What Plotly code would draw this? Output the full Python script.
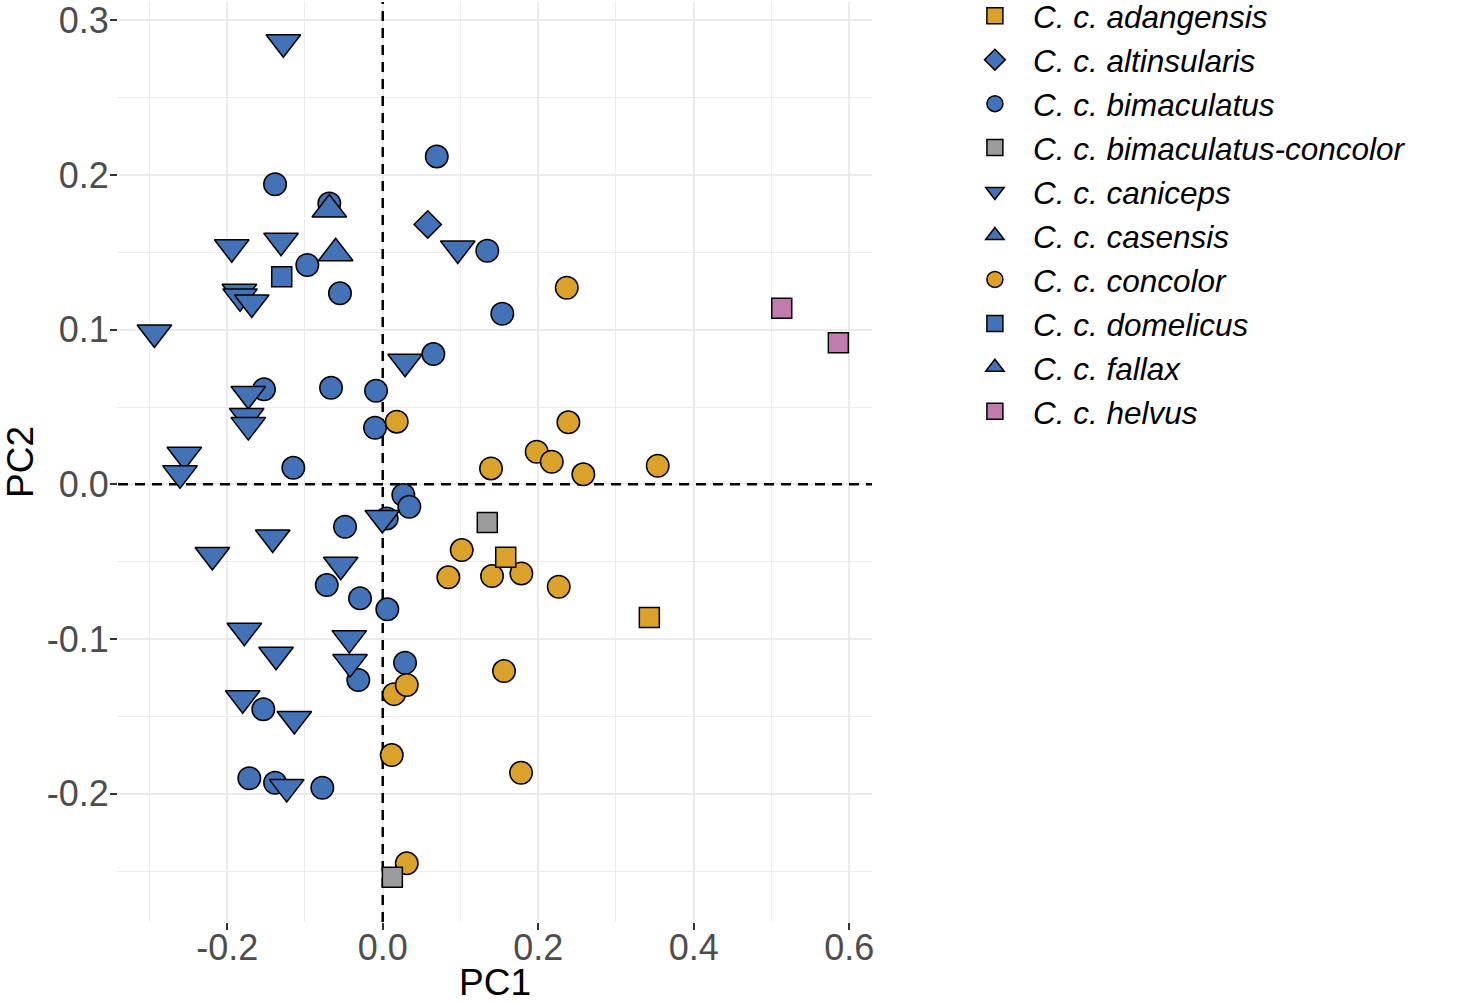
import plotly.graph_objects as go

# ---- data (PC1, PC2) ----
bimaculatus_x = [0.0695, -0.1385, -0.0687, -0.097, -0.055, 0.1345, 0.1538, 0.0651, -0.1527, -0.0665,
                 -0.0086, -0.0099, -0.115, 0.0265, 0.0342, 0.0051, -0.0485, -0.072, -0.0292, 0.0059,
                 0.0287, -0.0314, -0.1536, -0.1716, -0.1385, -0.0777]
bimaculatus_y = [0.212, 0.194, 0.1816, 0.1418, 0.1235, 0.151, 0.1103, 0.0842, 0.0614, 0.0624,
                 0.0605, 0.0366, 0.0107, -0.0069, -0.0145, -0.022, -0.0274, -0.0651, -0.0737, -0.0808,
                 -0.1153, -0.1265, -0.1454, -0.19, -0.1929, -0.1961]

caniceps_x = [-0.1278, -0.1942, -0.1308, -0.1844, -0.1835, -0.1685, -0.2937, 0.0287, 0.0965, -0.1729,
              -0.175, -0.1729, -0.2552, -0.2607, -0.0005, -0.1415, -0.2191, -0.054, -0.178, -0.043,
              -0.1372, -0.042, -0.1801, -0.1137, -0.1235]
caniceps_y = [0.2858, 0.1533, 0.1575, 0.1245, 0.1215, 0.1176, 0.0982, 0.0793, 0.1525, 0.0584,
              0.0442, 0.0383, 0.0191, 0.0071, -0.0218, -0.0343, -0.0457, -0.052, -0.0946, -0.0994,
              -0.1101, -0.1149, -0.1383, -0.1517, -0.1957]

casensis_x = [-0.0687]
casensis_y = [0.1777]
fallax_x = [-0.0605]
fallax_y = [0.1494]
altinsularis_x = [0.0579]
altinsularis_y = [0.168]
domelicus_x = [-0.1299]
domelicus_y = [0.1342]

concolor_x = [0.2367, 0.2388, 0.198, 0.2174, 0.1393, 0.258, 0.3537, 0.018, 0.1016, 0.0844,
              0.1406, 0.1783, 0.2264, 0.156, 0.0145, 0.0309, 0.0116, 0.1779, 0.0309]
concolor_y = [0.1271, 0.0401, 0.0211, 0.0146, 0.0103, 0.0065, 0.012, 0.0405, -0.0425, -0.0601,
              -0.0593, -0.0576, -0.0662, -0.1207, -0.1356, -0.1297, -0.175, -0.1864, -0.245]

adangensis_x = [0.1582, 0.3429]
adangensis_y = [-0.0472, -0.086]
bimcon_x = [0.1345, 0.0124]
bimcon_y = [-0.0246, -0.254]
helvus_x = [0.5132, 0.586]
helvus_y = [0.1138, 0.0915]

x_ticks = [-0.2, 0.0, 0.2, 0.4, 0.6]
x_ticklabels = ["-0.2", "0.0", "0.2", "0.4", "0.6"]
y_ticks = [-0.2, -0.1, 0.0, 0.1, 0.2, 0.3]
y_ticklabels = ["-0.2", "-0.1", "0.0", "0.1", "0.2", "0.3"]

x_range = [-0.3405, 0.6293]
y_range = [-0.2829, 0.3118]
ref_x = 0.0   # dashed reference line PC1 = 0
ref_y = 0.0   # dashed reference line PC2 = 0

BLUE = "#4372B6"
ORANGE = "#DBA22B"
GRAY = "#9C9C9C"
PINK = "#C27BAD"

# (name, x, y, symbol, color, size, legend rank) in drawing order
series = [
    ("C. c. bimaculatus", bimaculatus_x, bimaculatus_y, "circle", BLUE, 22.5, 3),
    ("C. c. caniceps", caniceps_x, caniceps_y, "triangle-down", BLUE, 30, 5),
    ("C. c. casensis", casensis_x, casensis_y, "triangle-up", BLUE, 30, 6),
    ("C. c. fallax", fallax_x, fallax_y, "triangle-up", BLUE, 30, 9),
    ("C. c. altinsularis", altinsularis_x, altinsularis_y, "diamond", BLUE, 21, 2),
    ("C. c. domelicus", domelicus_x, domelicus_y, "square", BLUE, 20, 8),
    ("C. c. concolor", concolor_x, concolor_y, "circle", ORANGE, 22.5, 7),
    ("C. c. adangensis", adangensis_x, adangensis_y, "square", ORANGE, 20, 1),
    ("C. c. bimaculatus-concolor", bimcon_x, bimcon_y, "square", GRAY, 20, 4),
    ("C. c. helvus", helvus_x, helvus_y, "square", PINK, 20, 10),
]

fig = go.Figure()

# dashed reference lines (drawn first so that points sit on top, grid stays below)
dash_line = dict(color="black", width=2.5, dash="10px,7px")
fig.add_trace(go.Scatter(x=[ref_x, ref_x], y=y_range, mode="lines", line=dash_line,
                         showlegend=False, hoverinfo="skip"))
fig.add_trace(go.Scatter(x=x_range, y=[ref_y, ref_y], mode="lines", line=dash_line,
                         showlegend=False, hoverinfo="skip"))

for name, xs, ys, sym, col, size, rank in series:
    fig.add_trace(go.Scatter(
        x=xs, y=ys, mode="markers", name=name, legendrank=rank,
        marker=dict(symbol=sym, color=col, size=size,
                    line=dict(color="black", width=1.5)),
    ))

FONT = "Liberation Sans, Arial, Helvetica, sans-serif"
GRID = "#EBEBEB"

fig.update_layout(
    width=1477, height=1003,
    margin=dict(l=118, r=605, t=2, b=81, autoexpand=False),
    paper_bgcolor="white", plot_bgcolor="white",
    font=dict(family=FONT),
    legend=dict(
        x=1.1126, y=1.0144, xanchor="left", yanchor="top",
        font=dict(size=31.5, color="black", family=FONT, style="italic"),
        itemwidth=66, tracegroupgap=0, bgcolor="rgba(0,0,0,0)",
    ),
    xaxis=dict(
        range=x_range, tickvals=x_ticks, ticktext=x_ticklabels,
        showgrid=True, gridcolor=GRID, gridwidth=2, zeroline=False,
        minor=dict(dtick=0.1, tick0=0.1, showgrid=True, gridcolor=GRID, gridwidth=1.2),
        ticks="outside", ticklen=7, tickwidth=1.5, tickcolor="#333333",
        tickfont=dict(size=36, color="#4D4D4D", family=FONT),
        ticklabelstandoff=-13, ticklabeloverflow="allow",
        title=dict(text="PC1", font=dict(size=37, color="black", family=FONT), standoff=33),
        showline=False,
    ),
    yaxis=dict(
        range=y_range, tickvals=y_ticks, ticktext=y_ticklabels,
        showgrid=True, gridcolor=GRID, gridwidth=2, zeroline=False,
        minor=dict(dtick=0.05, tick0=0.05, showgrid=True, gridcolor=GRID, gridwidth=1.2),
        ticks="outside", ticklen=7, tickwidth=1.5, tickcolor="#333333",
        tickfont=dict(size=36, color="#4D4D4D", family=FONT),
        ticklabelstandoff=-6, ticklabeloverflow="allow",
        title=dict(text="PC2", font=dict(size=37, color="black", family=FONT), standoff=33),
        showline=False,
    ),
)

fig.write_html("out.html", config={"displayModeBar": False},
               post_script="document.body.style.margin='0';")
